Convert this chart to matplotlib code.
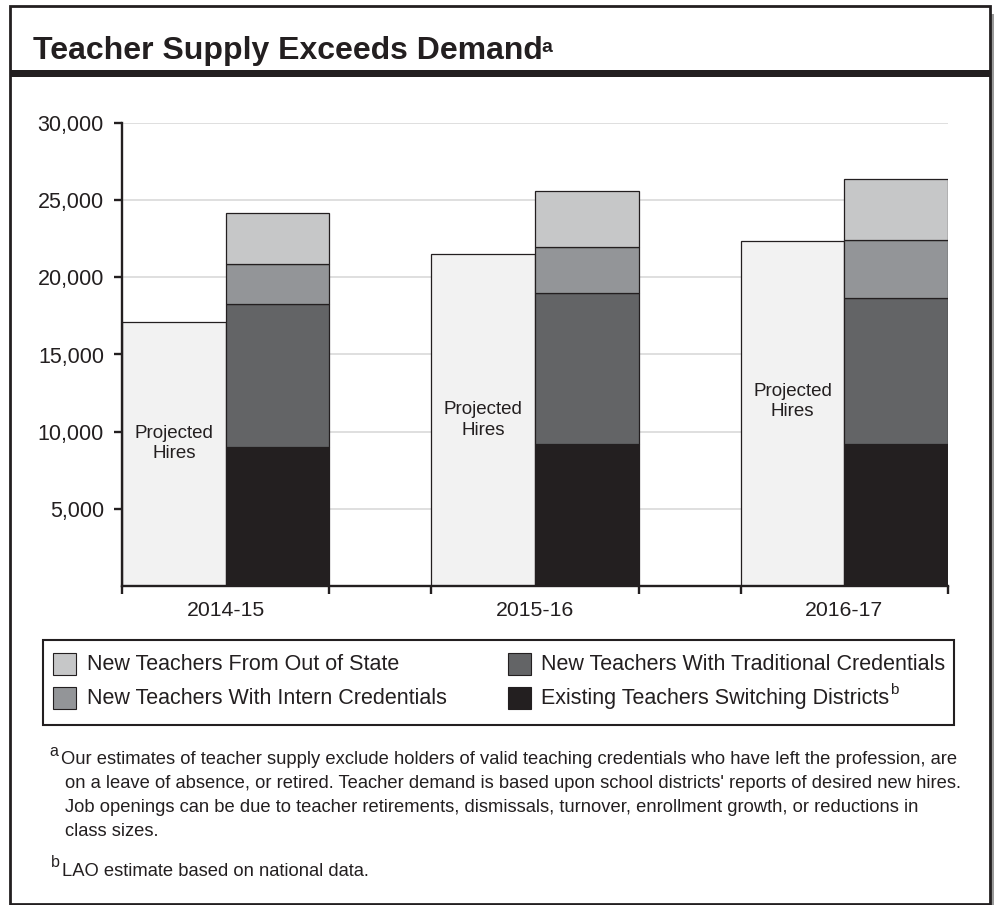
import matplotlib
matplotlib.use("Agg")
import matplotlib.pyplot as plt
from matplotlib.patches import Rectangle
import numpy as np

plt.rcParams['font.family'] = ['Liberation Sans', 'DejaVu Sans']

# ---------------- data ----------------
years = ["2014-15", "2015-16", "2016-17"]
projected_hires = [17100, 21480, 22340]
existing_switching = [9000, 9170, 9170]
traditional_creds = [9240, 9830, 9460]
intern_creds = [2640, 2950, 3800]
out_of_state = [3320, 3650, 3950]
yticks = [5000, 10000, 15000, 20000, 25000, 30000]
ytick_labels = ["5,000", "10,000", "15,000", "20,000", "25,000", "30,000"]

series_names = ["New Teachers From Out of State",
                "New Teachers With Intern Credentials",
                "New Teachers With Traditional Credentials",
                "Existing Teachers Switching Districts"]

c_proj = "#f2f2f2"
c_out = "#c6c7c8"
c_int = "#939598"
c_trad = "#636466"
c_exist = "#231f20"
dark = "#231f20"

W, H = 995, 905
fig = plt.figure(figsize=(W / 100, H / 100), dpi=100)


def fx(x):
    return x / W


def fy(y):
    return 1 - y / H


# axes
ax = fig.add_axes([fx(122), fy(586), fx(948) - fx(122), fy(123) - fy(586)])
x = np.arange(len(years))
bw = 0.335
ax.bar(x - bw / 2, projected_hires, bw, color=c_proj, edgecolor=dark, linewidth=0.9, zorder=3)
b0 = np.zeros(len(years))
for vals, col in [(existing_switching, c_exist), (traditional_creds, c_trad),
                  (intern_creds, c_int), (out_of_state, c_out)]:
    ax.bar(x + bw / 2, vals, bw, bottom=b0, color=col, edgecolor=dark, linewidth=0.9, zorder=3)
    b0 = b0 + np.array(vals)

label_frac = [0.54, 0.50, 0.535]
for i, v in enumerate(projected_hires):
    ax.text(x[i] - bw / 2, v * label_frac[i], "Projected\nHires", ha='center', va='center',
            fontsize=13.5, color=dark, linespacing=1.28, zorder=4)

ax.set_xlim(-bw, len(years) - 1 + bw)
ax.set_ylim(0, 30000)
ax.set_yticks(yticks)
ax.set_yticklabels(ytick_labels)
edges = []
for i in x:
    edges += [i - bw, i + bw]
ax.set_xticks(edges)
ax.set_xticklabels([])
ax.set_xticks(x, minor=True)
ax.set_xticklabels(years, minor=True)
ax.tick_params(axis='x', which='minor', length=0, pad=11, labelsize=15.3, labelcolor=dark)
ax.tick_params(axis='x', which='major', length=6, width=1.7, color=dark, direction='out')
ax.tick_params(axis='y', length=6, width=1.7, color=dark, pad=7, labelsize=15.5, labelcolor=dark)
ax.grid(axis='y', color='#d9d9d9', linewidth=1.2, zorder=0)
ax.set_axisbelow(True)
for s in ['top', 'right']:
    ax.spines[s].set_visible(False)
for s in ['left', 'bottom']:
    ax.spines[s].set_linewidth(1.7)
    ax.spines[s].set_color(dark)
    ax.spines[s].set_zorder(5)

# frame
fig.patches.append(Rectangle((fx(991), fy(905)), fx(995) - fx(991), fy(14) - fy(905),
                             transform=fig.transFigure, facecolor='#9a9a9a', edgecolor='none'))
fig.patches.append(Rectangle((fx(10.5), fy(903.5)), fx(990) - fx(10.5), fy(6.5) - fy(903.5),
                             transform=fig.transFigure, facecolor='none', edgecolor=dark, linewidth=2.0))
fig.patches.append(Rectangle((fx(10.5), fy(77)), fx(990) - fx(10.5), fy(70) - fy(77),
                             transform=fig.transFigure, facecolor=dark, edgecolor='none'))

# title
fig.text(fx(33), fy(59), "Teacher Supply Exceeds Demand", fontsize=23, fontweight='bold',
         color=dark, ha='left', va='baseline')
fig.text(fx(541), fy(52), "a", fontsize=14, fontweight='bold', color=dark, ha='left', va='baseline')

# legend (drawn manually for exact placement)
fig.patches.append(Rectangle((fx(43), fy(725)), fx(954) - fx(43), fy(640) - fy(725),
                             transform=fig.transFigure, facecolor='none', edgecolor=dark, linewidth=1.5))
leg_colors = [c_out, c_int, c_trad, c_exist]
leg_cols_x = [(53, 87), (53, 87), (508, 541), (508, 541)]
leg_rows_y = [664, 698, 664, 698]
for name, col, (px_, tx_), ry in zip(series_names, leg_colors, leg_cols_x, leg_rows_y):
    fig.patches.append(Rectangle((fx(px_), fy(ry + 11)), fx(23), 22 / H,
                                 transform=fig.transFigure, facecolor=col, edgecolor=dark,
                                 linewidth=0.8))
    t = fig.text(fx(tx_), fy(ry), name, fontsize=15.5, color=dark, ha='left', va='center')
# superscript b after last legend label
fig.canvas.draw()
bb = t.get_window_extent()
fig.text(bb.x1 / W + fx(1), fy(690), "b", fontsize=11, color=dark, ha='left', va='center')

# footnotes
fs = 13.2
fig.text(fx(49), fy(751), "a", fontsize=11.5, color=dark, ha='left', va='center')
fn_lines = [
    "Our estimates of teacher supply exclude holders of valid teaching credentials who have left the profession, are",
    "on a leave of absence, or retired. Teacher demand is based upon school districts' reports of desired new hires.",
    "Job openings can be due to teacher retirements, dismissals, turnover, enrollment growth, or reductions in",
    "class sizes.",
]
fn_y = [759, 783, 807, 831]
fn_x = [61, 65, 65, 65]
for tx, yy, xx in zip(fn_lines, fn_y, fn_x):
    fig.text(fx(xx), fy(yy), tx, fontsize=fs, color=dark, ha='left', va='center')
fig.text(fx(51), fy(862), "b", fontsize=11.5, color=dark, ha='left', va='center')
fig.text(fx(62), fy(871), "LAO estimate based on national data.", fontsize=fs, color=dark,
         ha='left', va='center')

fig.savefig("out.png", dpi=100)
